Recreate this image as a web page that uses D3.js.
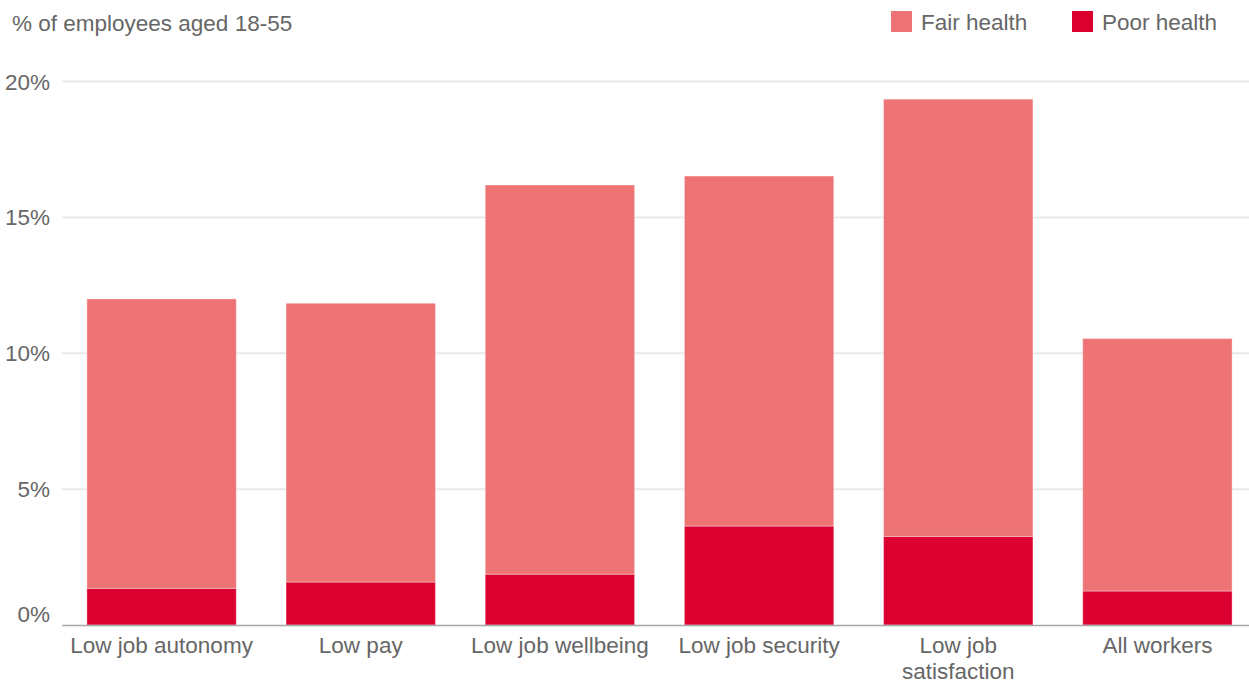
<!DOCTYPE html>
<html>
<head>
<meta charset="utf-8">
<script src="https://cdn.jsdelivr.net/npm/d3@7"></script>
<style>
  body { margin: 0; background: #fff; }
  text { font-family: "Liberation Sans", Arial, sans-serif; fill: #666; }
</style>
</head>
<body>
<div id="myChart"></div>
<script>
// data (percent of employees aged 18-55)
const categories = ["Low job autonomy", "Low pay", "Low job wellbeing", "Low job security", "Low job satisfaction", "All workers"];
const poorHealth = [1.35, 1.58, 1.87, 3.64, 3.26, 1.25];
const fairHealth = [10.65, 10.26, 14.32, 12.88, 16.09, 9.29];
const seriesNames = ["Fair health", "Poor health"];
const yTicks = [0, 5, 10, 15, 20];

const width = 1249;
const height = 682;
const colors = { "Poor health": "#dc0031", "Fair health": "#ee7374" };
const fontSize = "22.5px";

const svg = d3.select("#myChart")
    .append("svg")
    .attr("width", width)
    .attr("height", height);

const x = d3.scaleBand()
    .domain(categories)
    .range([62, 1257])
    .paddingInner(0.25)
    .paddingOuter(0.125);

const y = d3.scaleLinear()
    .domain([0, 20])
    .range([625, 81.5]);

//gridlines
svg.selectAll(".grid")
    .data(yTicks.filter(d => d > 0))
    .enter().append("line")
    .attr("x1", 62)
    .attr("x2", width)
    .attr("y1", d => y(d))
    .attr("y2", d => y(d))
    .attr("stroke", "#ebe9e6")
    .attr("stroke-width", 2);

//y tick labels, the zero label sits above the baseline
svg.selectAll(".ylab")
    .data(yTicks)
    .enter().append("text")
    .attr("x", 50)
    .attr("y", d => d === 0 ? y(d) - 3 : y(d) + 8)
    .attr("text-anchor", "end")
    .style("font-size", fontSize)
    .text(d => d + "%");

//stack poor at the bottom, fair on top
const rows = categories.map((c, i) => ({ cat: c, "Poor health": poorHealth[i], "Fair health": fairHealth[i] }));
const stacked = d3.stack().keys(["Poor health", "Fair health"])(rows);

svg.selectAll(".series")
    .data(stacked)
    .enter().append("g")
    .attr("fill", d => colors[d.key])
    .selectAll("rect")
    .data(d => d)
    .enter().append("rect")
    .attr("x", d => x(d.data.cat))
    .attr("width", x.bandwidth())
    .attr("y", d => y(d[1]))
    .attr("height", d => y(d[0]) - y(d[1]))
    .attr("stroke", "#fff")
    .attr("stroke-opacity", 0.35)
    .attr("stroke-width", 1);

//baseline
svg.append("line")
    .attr("x1", 62)
    .attr("x2", width)
    .attr("y1", y(0) + 0.5)
    .attr("y2", y(0) + 0.5)
    .attr("stroke", "#a6a6a6")
    .attr("stroke-width", 1.5);

//category labels, wrapped when too wide
const xAxis = svg.selectAll(".xlab")
    .data(categories)
    .enter().append("text")
    .attr("text-anchor", "middle")
    .attr("x", d => x(d) + x.bandwidth() / 2)
    .attr("y", 653)
    .style("font-size", fontSize);

xAxis.each(function (d) {
    const lines = d === "Low job satisfaction" ? ["Low job", "satisfaction"] : [d];
    d3.select(this).selectAll("tspan")
        .data(lines)
        .enter().append("tspan")
        .attr("x", x(d) + x.bandwidth() / 2)
        .attr("dy", (l, i) => i === 0 ? 0 : 26)
        .text(l => l);
});

//axis title
svg.append("text")
    .attr("x", 12)
    .attr("y", 31)
    .style("font-size", fontSize)
    .text("% of employees aged 18-55");

//legend
const legendX = [891, 1072];
const legend = svg.selectAll(".legends")
    .data(seriesNames)
    .enter().append("g")
    .attr("transform", (d, i) => `translate(${legendX[i]},11)`);

legend.append("rect")
    .attr("width", 21)
    .attr("height", 21)
    .attr("fill", d => colors[d]);

legend.append("text")
    .attr("x", 30)
    .attr("y", 19)
    .style("font-size", fontSize)
    .text(d => d);
</script>
</body>
</html>
